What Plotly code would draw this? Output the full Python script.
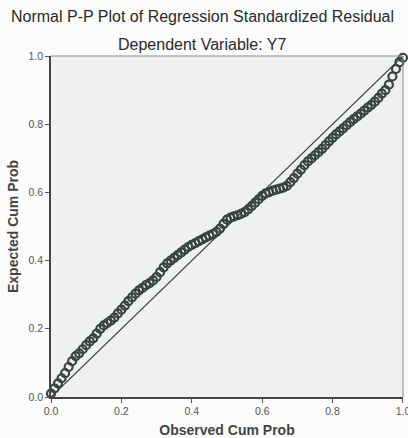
import plotly.graph_objects as go

# Observed cumulative probability (x) and expected cumulative probability (y)
observed_cum_prob = [
    0.00, 0.01, 0.02, 0.03, 0.04, 0.05, 0.06, 0.07, 0.08, 0.09,
    0.10, 0.11, 0.12, 0.13, 0.14, 0.15, 0.16, 0.17, 0.18, 0.19,
    0.20, 0.21, 0.22, 0.23, 0.24, 0.25, 0.26, 0.27, 0.28, 0.29,
    0.30, 0.31, 0.32, 0.33, 0.34, 0.35, 0.36, 0.37, 0.38, 0.39,
    0.40, 0.41, 0.42, 0.43, 0.44, 0.45, 0.46, 0.47, 0.48, 0.49,
    0.50, 0.51, 0.52, 0.53, 0.54, 0.55, 0.56, 0.57, 0.58, 0.59,
    0.60, 0.61, 0.62, 0.63, 0.64, 0.65, 0.66, 0.67, 0.68, 0.69,
    0.70, 0.71, 0.72, 0.73, 0.74, 0.75, 0.76, 0.77, 0.78, 0.79,
    0.80, 0.81, 0.82, 0.83, 0.84, 0.85, 0.86, 0.87, 0.88, 0.89,
    0.90, 0.91, 0.92, 0.93, 0.94, 0.95, 0.96, 0.97, 0.98, 0.99,
    1.00,
]
expected_cum_prob = [
    0.010, 0.025, 0.040, 0.055, 0.070, 0.088, 0.105, 0.120, 0.128, 0.140,
    0.152, 0.163, 0.172, 0.186, 0.200, 0.210, 0.217, 0.224, 0.233, 0.245,
    0.256, 0.268, 0.281, 0.292, 0.303, 0.313, 0.320, 0.328, 0.334, 0.342,
    0.352, 0.366, 0.380, 0.392, 0.400, 0.408, 0.416, 0.424, 0.432, 0.440,
    0.446, 0.451, 0.457, 0.462, 0.468, 0.473, 0.478, 0.484, 0.494, 0.508,
    0.520, 0.526, 0.530, 0.533, 0.537, 0.542, 0.550, 0.560, 0.570, 0.580,
    0.590, 0.597, 0.601, 0.605, 0.608, 0.611, 0.614, 0.619, 0.630, 0.642,
    0.655, 0.667, 0.680, 0.691, 0.700, 0.709, 0.718, 0.728, 0.739, 0.750,
    0.760, 0.770, 0.779, 0.788, 0.797, 0.806, 0.815, 0.823, 0.831, 0.840,
    0.849, 0.857, 0.866, 0.877, 0.890, 0.900, 0.916, 0.940, 0.962, 0.982,
    0.995,
]
reference_line_x = [0.0, 1.0]
reference_line_y = [0.0, 1.0]
tick_values = [0.0, 0.2, 0.4, 0.6, 0.8, 1.0]
tick_labels = ["0.0", "0.2", "0.4", "0.6", "0.8", "1.0"]

title_line1 = "Normal P-P Plot of Regression Standardized Residual"
title_line2 = "Dependent Variable: Y7"
x_title = "Observed Cum Prob"
y_title = "Expected Cum Prob"

FONT = "Liberation Sans, Arial, sans-serif"

fig = go.Figure()
fig.add_trace(go.Scatter(
    x=reference_line_x, y=reference_line_y, mode="lines",
    line=dict(color="#3a3a3a", width=1.2), hoverinfo="skip", showlegend=False,
))
fig.add_trace(go.Scatter(
    x=observed_cum_prob, y=expected_cum_prob, mode="markers",
    marker=dict(symbol="circle-open", size=8, color="#37443f",
                line=dict(width=2.2, color="#37443f")),
    showlegend=False, cliponaxis=False,
))

axis_common = dict(
    tickvals=tick_values, ticktext=tick_labels,
    ticks="outside", ticklen=4, tickwidth=1, tickcolor="#555",
    showgrid=False, zeroline=False, showline=True, linecolor="#444", linewidth=1.5,
    tickfont=dict(family=FONT, size=10.5, color="#555"),
    ticklabeloverflow="allow", automargin=False,
)

fig.update_layout(
    width=408, height=438,
    margin=dict(l=51, r=5, t=56, b=41),
    paper_bgcolor="#fbfbfb", plot_bgcolor="#eef0f1",
    font=dict(family=FONT, color="#333"),
    xaxis=dict(**axis_common, range=[0, 1.0001],
               title=dict(text="<b>" + x_title + "</b>", standoff=15,
                          font=dict(family=FONT, size=14, color="#444"))),
    yaxis=dict(**axis_common, range=[0, 1.0001],
               title=dict(text="<b>" + y_title + "</b>", standoff=7,
                          font=dict(family=FONT, size=14, color="#444"))),
    shapes=[
        dict(type="line", xref="paper", yref="paper", x0=0, x1=1, y0=1, y1=1,
             line=dict(color="#8a8a8a", width=1)),
        dict(type="line", xref="paper", yref="paper", x0=1, x1=1, y0=0, y1=1,
             line=dict(color="#8a8a8a", width=1)),
    ],
    annotations=[
        dict(text=title_line1, xref="paper", yref="paper", x=0.43, y=1.117,
             xanchor="center", yanchor="middle", showarrow=False,
             font=dict(family=FONT, size=16, color="#2a2a2a")),
        dict(text=title_line2, xref="paper", yref="paper", x=0.43, y=1.035,
             xanchor="center", yanchor="middle", showarrow=False,
             font=dict(family=FONT, size=16, color="#2a2a2a")),
    ],
)

fig.write_html("out.html")
